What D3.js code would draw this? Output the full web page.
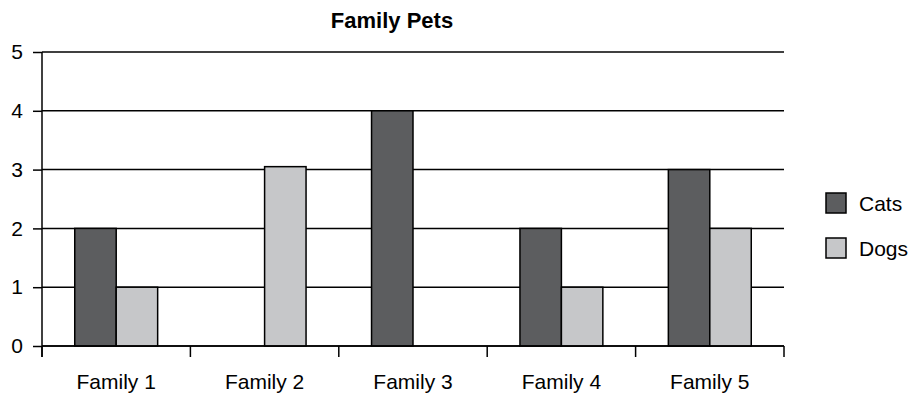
<!DOCTYPE html>
<html>
<head>
<meta charset="utf-8">
<script src="https://cdn.jsdelivr.net/npm/d3@7"></script>
<style>
  body { margin: 0; background: #fff; }
  text { font-family: "Liberation Sans Narrow", "Arial Narrow", "Liberation Sans", sans-serif; fill: #000; }
</style>
</head>
<body>
<div id="chart"></div>
<script>
// --- DATA ---
const families = ["Family 1", "Family 2", "Family 3", "Family 4", "Family 5"];
const seriesNames = ["Cats", "Dogs"];
const cats = [2, 0, 4, 2, 3];
const dogs = [1, 3.05, 0, 1, 2];
const yTicks = [0, 1, 2, 3, 4, 5];

const rows = families.map((f, i) => ({ family: f, Cats: cats[i], Dogs: dogs[i] }));

// --- SVG setup ---
const width = 909, height = 397;
const margin = { top: 52, bottom: 51, left: 42, right: 125 };

const svg = d3.select("#chart")
  .append("svg")
  .attr("width", width)
  .attr("height", height);

// --- SCALES ---
const x0 = d3.scaleBand()
  .domain(families)
  .range([margin.left, width - margin.right])
  .padding(0);

const x1 = d3.scaleBand()
  .domain(seriesNames)
  .range([0, x0.bandwidth()])
  .paddingInner(0)
  .paddingOuter(0.79);

const y = d3.scaleLinear()
  .domain([0, 5])
  .range([height - margin.bottom, margin.top]);

const color = d3.scaleOrdinal()
  .domain(seriesNames)
  .range(["#5c5d5f", "#c6c7c9"]);

// --- GRID + Y AXIS ---
const yAxis = svg.append("g")
  .attr("transform", `translate(${margin.left},0)`)
  .call(d3.axisLeft(y).tickValues(yTicks).tickSize(9).tickPadding(10).tickFormat(d3.format("d")));
yAxis.select(".domain").remove();
yAxis.selectAll(".tick line").attr("stroke", "#000").attr("stroke-width", 1.5);
yAxis.selectAll(".tick text").style("font-size", "21px");

svg.append("g")
  .selectAll("line")
  .data(yTicks)
  .join("line")
  .attr("x1", margin.left)
  .attr("x2", width - margin.right)
  .attr("y1", d => y(d))
  .attr("y2", d => y(d))
  .attr("stroke", "#000")
  .attr("stroke-width", 1.5);

// --- BARS ---
const groups = svg.selectAll(".group")
  .data(rows)
  .join("g")
  .attr("class", "group")
  .attr("transform", d => `translate(${x0(d.family)},0)`);

groups.selectAll("rect")
  .data(d => seriesNames.map(k => ({ key: k, value: d[k] })).filter(v => v.value > 0))
  .join("rect")
  .attr("x", d => x1(d.key))
  .attr("y", d => y(d.value))
  .attr("width", x1.bandwidth())
  .attr("height", d => y(0) - y(d.value))
  .attr("fill", d => color(d.key))
  .attr("stroke", "#000")
  .attr("stroke-width", 1.5);

// --- X AXIS ---
const xAxisG = svg.append("g")
  .attr("transform", `translate(0,${y(0)})`);

xAxisG.append("line")
  .attr("x1", margin.left)
  .attr("x2", width - margin.right)
  .attr("stroke", "#000")
  .attr("stroke-width", 1.5);

const boundaries = families.map(f => x0(f)).concat([x0(families[families.length - 1]) + x0.bandwidth()]);
xAxisG.selectAll(".xtick")
  .data(boundaries)
  .join("line")
  .attr("class", "xtick")
  .attr("x1", d => d)
  .attr("x2", d => d)
  .attr("y1", 0)
  .attr("y2", 11)
  .attr("stroke", "#000")
  .attr("stroke-width", 1.5);

xAxisG.selectAll(".xlabel")
  .data(families)
  .join("text")
  .attr("class", "xlabel")
  .attr("x", d => x0(d) + x0.bandwidth() / 2)
  .attr("y", 43)
  .attr("text-anchor", "middle")
  .style("font-size", "21px")
  .text(d => d);

// y axis line
svg.append("line")
  .attr("x1", margin.left)
  .attr("x2", margin.left)
  .attr("y1", y(5))
  .attr("y2", y(0) + 11)
  .attr("stroke", "#000")
  .attr("stroke-width", 1.5);

// --- TITLE ---
svg.append("text")
  .attr("x", 392)
  .attr("y", 28)
  .attr("text-anchor", "middle")
  .style("font-size", "22px")
  .style("font-weight", "bold")
  .text("Family Pets");

// --- LEGEND ---
const legend = svg.append("g")
  .attr("transform", "translate(826,193)");

seriesNames.forEach((name, i) => {
  legend.append("rect")
    .attr("x", 0)
    .attr("y", i * 45)
    .attr("width", 20)
    .attr("height", 20)
    .attr("fill", color(name))
    .attr("stroke", "#000")
    .attr("stroke-width", 1.5);

  legend.append("text")
    .attr("x", 33)
    .attr("y", i * 45 + 18)
    .style("font-size", "21px")
    .text(name);
});
</script>
</body>
</html>
